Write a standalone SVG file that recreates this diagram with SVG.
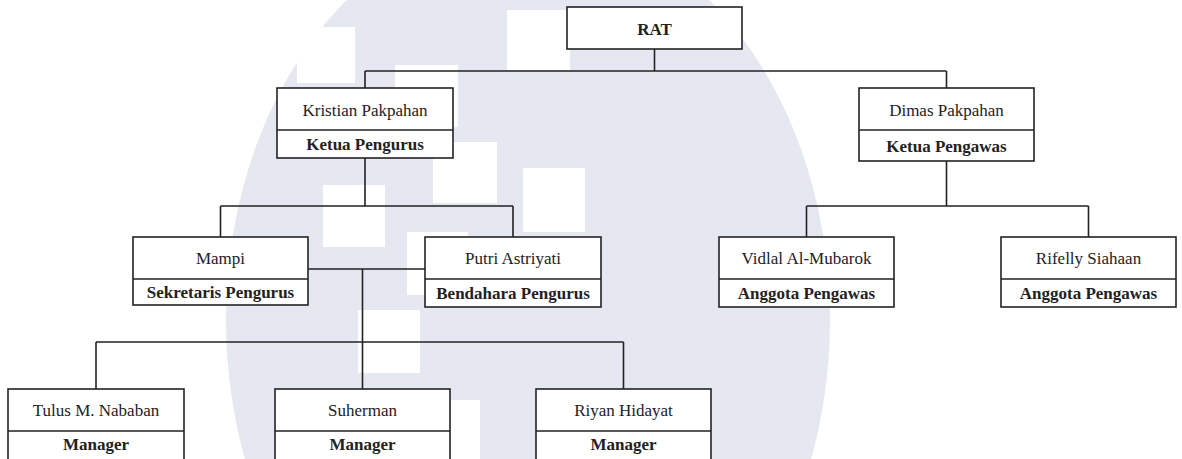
<svg xmlns="http://www.w3.org/2000/svg" width="1182" height="459" viewBox="0 0 1182 459">
<style>
.bg{fill:#ffffff}
.wm{fill:#e5e8f0}
.wsq{fill:#ffffff}
.box{fill:#ffffff;stroke:#222222;stroke-width:1.6}
.div{stroke:#222222;stroke-width:1.6}
.conn{fill:none;stroke:#222222;stroke-width:1.6}
.t{font-family:'Liberation Serif','DejaVu Serif',serif;font-size:17px;fill:#222222;text-anchor:middle}
.b{font-weight:bold}
</style>
<rect class="bg" x="0" y="0" width="1182" height="459"/>
<g id="watermark">
<ellipse class="wm" cx="528" cy="320" rx="302" ry="400"/>
<rect class="wsq" x="297" y="27" width="58" height="56"/>
<rect class="wsq" x="395" y="65" width="63" height="62"/>
<rect class="wsq" x="507" y="10" width="63" height="60"/>
<rect class="wsq" x="433" y="142" width="64" height="61"/>
<rect class="wsq" x="523" y="168" width="62" height="64"/>
<rect class="wsq" x="323" y="185" width="62" height="62"/>
<rect class="wsq" x="407" y="232" width="61" height="63"/>
<rect class="wsq" x="358" y="310" width="62" height="63"/>
<rect class="wsq" x="440" y="400" width="40" height="60"/>
</g>
<g id="connectors">
<path class="conn" d="M654.5 49V71M365 71H946.5M365 71V88M946.5 71V88"/>
<path class="conn" d="M365 158V206M220.5 206H513M220.5 206V237M513 206V237"/>
<path class="conn" d="M946.5 161V206M806.5 206H1088.5M806.5 206V237M1088.5 206V237"/>
<path class="conn" d="M308 269H425M362.5 269V389M96 342H623.5M96 342V389M623.5 342V389"/>
</g>
<g id="rat">
<rect class="box" x="567" y="7" width="175" height="42"/>
<text class="t b" x="654.5" y="35" font-family="Liberation Serif, serif">RAT</text>
</g>
<g id="kristian">
<rect class="box" x="277" y="88" width="176" height="70"/>
<line class="div" x1="277" y1="130" x2="453" y2="130"/>
<text class="t" x="365" y="116">Kristian Pakpahan</text>
<text class="t b" x="365" y="150">Ketua Pengurus</text>
</g>
<g id="dimas">
<rect class="box" x="859" y="88" width="175" height="73"/>
<line class="div" x1="859" y1="130" x2="1034" y2="130"/>
<text class="t" x="946.5" y="116">Dimas Pakpahan</text>
<text class="t b" x="946.5" y="152">Ketua Pengawas</text>
</g>
<g id="mampi">
<rect class="box" x="133" y="237" width="175" height="68"/>
<line class="div" x1="133" y1="279" x2="308" y2="279"/>
<text class="t" x="220.5" y="264">Mampi</text>
<text class="t b" x="220.5" y="298">Sekretaris Pengurus</text>
</g>
<g id="putri">
<rect class="box" x="425" y="237" width="176" height="70"/>
<line class="div" x1="425" y1="279" x2="601" y2="279"/>
<text class="t" x="513" y="264">Putri Astriyati</text>
<text class="t b" x="513" y="299">Bendahara Pengurus</text>
</g>
<g id="vidlal">
<rect class="box" x="719" y="237" width="175" height="70"/>
<line class="div" x1="719" y1="279" x2="894" y2="279"/>
<text class="t" x="806.5" y="264">Vidlal Al-Mubarok</text>
<text class="t b" x="806.5" y="299">Anggota Pengawas</text>
</g>
<g id="rifelly">
<rect class="box" x="1001" y="237" width="175" height="70"/>
<line class="div" x1="1001" y1="279" x2="1176" y2="279"/>
<text class="t" x="1088.5" y="264">Rifelly Siahaan</text>
<text class="t b" x="1088.5" y="299">Anggota Pengawas</text>
</g>
<g id="tulus">
<rect class="box" x="8" y="389" width="176" height="72"/>
<line class="div" x1="8" y1="431" x2="184" y2="431"/>
<text class="t" x="96" y="416">Tulus M. Nababan</text>
<text class="t b" x="96" y="450">Manager</text>
</g>
<g id="suherman">
<rect class="box" x="275" y="389" width="175" height="72"/>
<line class="div" x1="275" y1="431" x2="450" y2="431"/>
<text class="t" x="362.5" y="416">Suherman</text>
<text class="t b" x="362.5" y="450">Manager</text>
</g>
<g id="riyan">
<rect class="box" x="536" y="389" width="175" height="72"/>
<line class="div" x1="536" y1="431" x2="711" y2="431"/>
<text class="t" x="623.5" y="416">Riyan Hidayat</text>
<text class="t b" x="623.5" y="450">Manager</text>
</g>
</svg>
